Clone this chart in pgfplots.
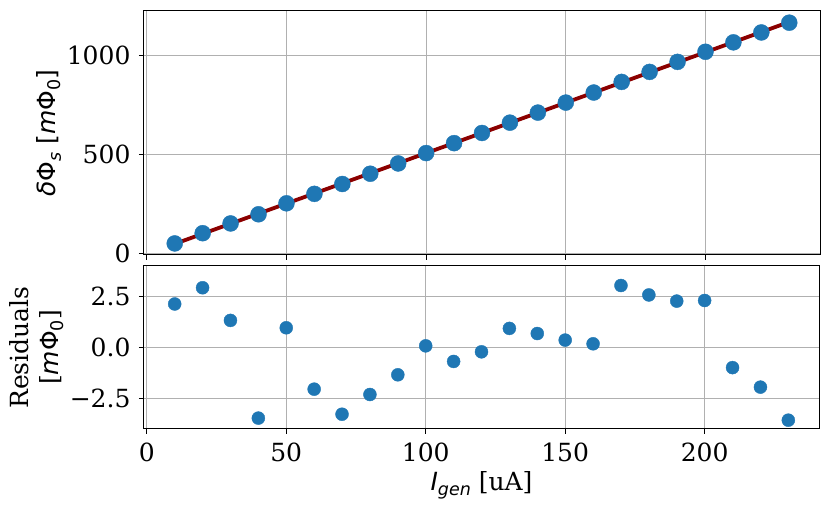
\documentclass[border=0pt]{standalone}
\usepackage{pgfplots}
\pgfplotsset{compat=1.18}
\usepackage{fontspec}
\setmainfont{DejaVu Serif}
\newfontfamily\dvs{DejaVu Sans}
\newcommand{\mi}[1]{{\dvs\itshape #1}}
\newcommand{\mr}[1]{{\dvs #1}}
\newcommand{\sub}[1]{\raisebox{-5pt}{\fontsize{17.5}{20}\selectfont #1}}
\definecolor{tabblue}{HTML}{1F77B4}
\definecolor{fitred}{HTML}{8B0000}
\definecolor{gridgray}{HTML}{B0B0B0}
\pgfplotstableread{
x y
10 52.37
20 103.91
30 153.07
40 199.06
50 254.21
60 301.97
70 351.5
80 403.21
90 454.92
100 507.08
110 557.07
120 608.29
130 660.18
140 710.68
150 761.11
160 811.68
170 865.27
180 915.56
190 966.01
200 1016.79
210 1064.27
220 1114.07
230 1163.21
}\datatop
\pgfplotstableread{
x r
10 2.12
20 2.91
30 1.32
40 -3.44
50 0.96
60 -2.03
70 -3.25
80 -2.29
90 -1.33
100 0.08
110 -0.68
120 -0.21
130 0.93
140 0.68
150 0.36
160 0.18
170 3.02
180 2.56
190 2.26
200 2.29
210 -0.98
220 -1.93
230 -3.54
}\datares
\begin{document}
\fontsize{25}{29}\selectfont
\begin{tikzpicture}
\useasboundingbox (0,0) rectangle (830pt,511pt);
\pgfplotsset{
  common/.style={
    scale only axis,
    anchor=south west,
    xmin=-1, xmax=241,
    axis line style={black, line width=1pt},
    grid=major,
    major grid style={gridgray, line width=0.9pt},
    tick style={black, line width=1pt},
    major tick length=5pt,
    tick align=outside,
    xtick pos=bottom, ytick pos=left,
    xtick={0,50,100,150,200},
    tick label style={font=\fontsize{25}{29}\selectfont},
    label style={font=\fontsize{25}{30}\selectfont},
  }
}
\begin{axis}[common,
  at={(144pt,256pt)}, width=676pt, height=244pt,
  ymin=-5.75, ymax=1222,
  ytick={0,500,1000},
  yticklabels={0,500,1000},
  xticklabels={},
  ylabel={\mi{δ}\mr{Φ}\sub{\mi{s}} \mr{[}\mi{m}\mr{Φ}\sub{\mr{0}}\mr{]}},
  ylabel style={at={(axis description cs:0,0.5)}, anchor=center, yshift=95pt},
]
\addplot[fitred, line width=3.8pt] coordinates {(10,50.25) (230,1166.75)};
\addplot[only marks, mark=*, mark size=8pt, tabblue, mark options={draw=tabblue, fill=tabblue}] table[x=x,y=y] {\datatop};
\end{axis}
\begin{axis}[common,
  at={(144pt,82pt)}, width=675pt, height=163pt,
  ymin=-3.97, ymax=3.97,
  ytick={-2.5,0,2.5},
  yticklabels={−2.5,0.0,2.5},
  xticklabels={0,50,100,150,200},
  ylabel={Residuals\\{[}\mi{m}\mr{Φ}\sub{\mr{0}}{]}},
  ylabel style={at={(axis description cs:0,0.5)}, anchor=center, align=center, yshift=107pt},
  xlabel={\mi{I}\sub{\mi{gen}} [uA]},
  xlabel style={at={(axis description cs:0.5,0)}, anchor=center, yshift=-56pt},
]
\addplot[only marks, mark=*, mark size=6.5pt, tabblue, mark options={draw=tabblue, fill=tabblue}] table[x=x,y=r] {\datares};
\end{axis}
\end{tikzpicture}
\end{document}
